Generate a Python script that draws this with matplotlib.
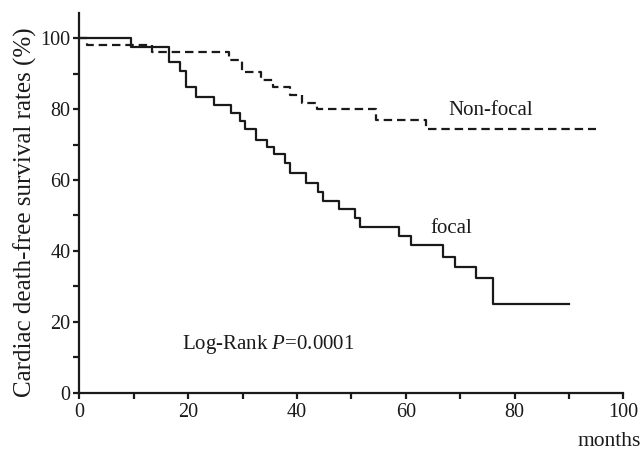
import matplotlib
matplotlib.use("Agg")
import matplotlib.pyplot as plt
from matplotlib.ticker import MultipleLocator

# Kaplan-Meier step points (months, survival %)
focal_months = [0, 9.5, 16.5, 18.4, 19.6, 21.4, 24.7, 27.8, 29.5, 30.4, 32.5,
                34.5, 35.8, 37.7, 38.8, 41.7, 43.9, 44.8, 47.8, 50.7, 51.6,
                58.8, 60.9, 66.9, 69.1, 73.0, 76.1, 90.0]
focal_surv = [100, 97.5, 93.3, 90.8, 86.1, 83.3, 81.1, 78.8, 76.7, 74.3, 71.4,
              69.4, 67.3, 64.7, 62.0, 59.2, 56.7, 54.0, 51.8, 49.2, 46.8,
              44.2, 41.6, 38.3, 35.5, 32.3, 25.0, 25.0]

nonfocal_months = [0, 1.4, 13.3, 27.5, 29.8, 33.3, 35.5, 38.7, 41.0, 43.6,
                   54.5, 63.8, 95.0]
nonfocal_surv = [100, 98.2, 96.0, 93.8, 90.5, 88.2, 86.3, 83.9, 81.6, 80.0,
                 76.9, 74.3, 74.3]

plt.rcParams["font.family"] = ["Liberation Serif", "DejaVu Serif"]
plt.rcParams["mathtext.fontset"] = "custom"
plt.rcParams["mathtext.rm"] = "Liberation Serif"
plt.rcParams["mathtext.it"] = "Liberation Serif:italic"

fig = plt.figure(figsize=(6.42, 4.53), dpi=100)
ax = fig.add_axes([0.1238, 0.1331, 0.8471, 0.8375])

ax.step(focal_months, focal_surv, where="post", color="#1a1a1a", lw=1.6)
ax.step(nonfocal_months, nonfocal_surv, where="post", color="#1a1a1a", lw=1.6,
        linestyle=(0, (3.8, 2.2)))

ax.set_xlim(0, 100)
ax.set_ylim(0, 107)
ax.xaxis.set_major_locator(MultipleLocator(20))
ax.xaxis.set_minor_locator(MultipleLocator(10))
ax.yaxis.set_major_locator(MultipleLocator(20))
ax.yaxis.set_minor_locator(MultipleLocator(10))

for s in ["top", "right"]:
    ax.spines[s].set_visible(False)
for s in ["left", "bottom"]:
    ax.spines[s].set_linewidth(1.6)
    ax.spines[s].set_color("#1a1a1a")

ax.tick_params(which="both", direction="out", length=4.5, width=1.6,
               color="#1a1a1a", labelsize=14.5, labelcolor="#1a1a1a")
ax.tick_params(axis="x", which="both", pad=3)
ax.tick_params(axis="y", which="both", pad=2)

ax.text(67.8, 79.7, "Non-focal", fontsize=15, ha="left", va="center", color="#1a1a1a")
ax.text(64.5, 46.4, "focal", fontsize=15, ha="left", va="center", color="#1a1a1a")
ax.text(18.8, 13.5, "Log-Rank $\\mathit{P}$=0.0001", fontsize=15, ha="left",
        va="center", color="#1a1a1a")

fig.text(25 / 642, 1 - 212 / 453, "Cardiac death-free survival rates (%)",
         rotation=90, ha="center", va="center", fontsize=18, color="#1a1a1a")
fig.text(641 / 642, 1 - 441 / 453, "months", ha="right", va="center",
         fontsize=15.5, color="#1a1a1a")

fig.savefig("out.png", dpi=100)
